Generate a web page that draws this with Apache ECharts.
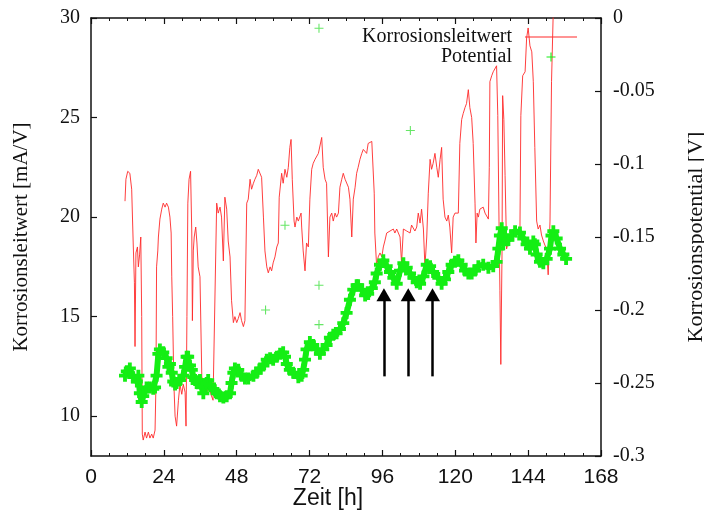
<!DOCTYPE html>
<html>
<head>
<meta charset="utf-8">
<script src="https://cdn.jsdelivr.net/npm/echarts@6/dist/echarts.min.js"></script>
<style>
  html, body { margin: 0; padding: 0; background: #fff; }
  #chart { width: 704px; height: 512px; }
</style>
</head>
<body>
<div id="chart"></div>
<script>
// Korrosionsleitwert [mA/V] (left axis)
const leitwertTime = [
  11.2, 11.5, 12.1, 12.8, 13.4, 13.9, 14.3, 14.5, 14.8, 15.3,
  15.6, 16.0, 16.4, 16.7, 16.9, 17.2, 17.8, 18.3, 18.9, 19.4,
  20.0, 20.5, 21.1, 21.4, 21.6, 22.0, 22.2, 22.7, 23.3, 23.8,
  24.4, 24.9, 25.5, 26.0, 26.4, 26.6, 26.9, 27.3, 27.7, 28.2,
  28.8, 29.3, 29.9, 30.4, 31.0, 31.3, 31.6, 31.9, 32.3, 32.8,
  33.2, 33.4, 33.7, 34.0, 34.5, 34.9, 35.3, 35.9, 36.5, 37.0,
  37.5, 38.2, 38.9, 39.5, 40.2, 40.7, 41.4, 41.9, 42.5, 43.0,
  43.6, 44.1, 44.7, 45.2, 45.8, 46.3, 46.9, 47.4, 48.0, 48.5,
  49.1, 49.6, 50.2, 50.7, 51.3, 51.8, 52.4, 52.9, 53.5, 54.0,
  54.6, 55.1, 55.7, 56.2, 56.8, 57.3, 57.9, 58.4, 59.0, 59.5,
  60.0, 60.6, 61.2, 61.7, 62.0, 62.8, 63.3, 63.9, 64.5, 65.0,
  65.5, 65.9, 66.3, 66.9, 67.2, 67.8, 68.3, 69.2, 69.4, 69.9,
  70.5, 71.0, 71.6, 72.1, 72.7, 73.2, 73.8, 74.3, 74.9, 75.4,
  76.0, 76.5, 77.1, 77.6, 78.2, 78.7, 79.3, 79.8, 80.4, 80.9,
  81.5, 82.0, 82.6, 83.1, 83.7, 84.2, 84.8, 85.3, 85.9, 86.4,
  87.0, 87.5, 88.0, 88.6, 89.2, 89.7, 90.3, 90.8, 91.3, 91.9,
  92.5, 93.0, 93.3, 93.5, 94.1, 94.6, 95.2, 95.8, 96.3, 96.8,
  97.4, 97.9, 98.5, 99.0, 99.6, 100.1, 100.7, 101.2, 101.8, 102.3,
  102.9, 103.4, 104.0, 104.5, 105.1, 105.6, 106.2, 106.7, 107.3, 107.8,
  108.4, 108.9, 109.5, 110.0, 110.6, 111.1, 111.7, 112.2, 112.7, 113.3,
  113.9, 114.4, 115.0, 115.5, 116.0, 116.6, 117.2, 117.7, 118.2, 118.8,
  119.3, 119.9, 120.5, 121.0, 121.5, 122.1, 122.6, 123.2, 123.7, 124.3,
  124.8, 125.4, 125.9, 126.5, 126.8, 127.2, 127.6, 128.1, 128.7, 129.2,
  129.8, 130.3, 130.9, 131.2, 131.4, 132.0, 132.5, 133.1, 133.6, 134.0,
  134.4, 134.7, 135.0, 135.4, 135.6, 136.0, 136.4, 136.9, 137.5, 138.0,
  138.6, 139.1, 140.2, 141.3, 141.6, 142.2, 143.0, 143.5, 144.0, 144.6,
  145.2, 145.7, 146.2, 146.8, 147.3, 147.9, 148.4, 149.0, 149.5, 150.1,
  150.6, 151.2, 151.7, 152.3
];
const leitwertValues = [
  20.8, 21.9, 22.3, 22.2, 21.4, 18.7, 16.7, 13.5, 18.2, 18.5,
  17.5, 18.1, 19.0, 15.0, 9.1, 8.8, 9.2, 8.9, 9.2, 8.9,
  9.1, 8.9, 9.3, 11.6, 17.5, 18.3, 19.0, 19.9, 20.4, 20.7,
  20.5, 20.7, 20.5, 20.0, 19.2, 17.0, 15.0, 11.6, 10.0, 9.5,
  10.8, 11.6, 11.1, 11.6, 11.2, 9.5, 15.0, 20.7, 21.9, 22.3,
  19.2, 14.8, 18.3, 19.0, 19.5, 18.7, 17.5, 17.0, 12.0, 11.6,
  11.8, 11.2, 11.6, 11.1, 10.8, 10.9, 20.7, 20.2, 20.5, 20.0,
  17.8, 21.0, 20.4, 18.8, 18.0, 15.8, 14.7, 15.0, 14.7, 14.9,
  15.2, 14.8, 14.5, 14.8, 20.7, 20.9, 21.9, 21.4, 21.7, 21.9,
  22.1, 22.4, 22.5, 22.0, 20.0, 18.3, 17.5, 17.2, 17.5, 17.3,
  17.7, 18.0, 18.5, 18.7, 21.0, 22.2, 21.7, 22.4, 22.0, 22.5,
  23.5, 23.9, 21.9, 19.8, 19.5, 20.0, 19.8, 20.2, 19.5, 18.3,
  17.3, 18.7, 18.5, 20.9, 22.4, 22.7, 22.9, 22.8, 23.2, 23.3,
  24.0, 22.5, 21.9, 21.7, 18.0, 20.0, 20.2, 19.8, 20.2, 20.0,
  20.2, 21.5, 21.9, 22.2, 21.9, 21.9, 21.5, 20.9, 19.0, 20.9,
  21.5, 22.2, 22.5, 22.9, 23.2, 23.4, 23.5, 23.2, 23.7, 23.7,
  23.8, 23.7, 21.2, 19.2, 17.5, 18.0, 18.2, 18.0, 18.5, 18.8,
  19.2, 19.3, 19.3, 19.4, 19.4, 19.2, 19.4, 19.3, 19.0, 17.7,
  19.4, 19.3, 19.3, 19.4, 19.2, 19.6, 19.5, 19.3, 19.5, 20.2,
  19.7, 20.4, 19.4, 17.5, 19.0, 21.2, 22.9, 22.4, 22.7, 23.2,
  22.5, 22.0, 22.9, 23.5, 20.9, 20.0, 19.8, 20.1, 19.5, 18.2,
  20.0, 20.2, 20.3, 20.2, 23.7, 24.9, 25.2, 25.5, 25.7, 26.4,
  25.5, 25.0, 23.7, 20.7, 18.7, 20.2, 20.0, 20.4, 20.3, 20.5,
  20.2, 20.1, 19.9, 22.5, 26.8, 27.1, 27.3, 27.3, 27.6, 25.1,
  19.8, 16.3, 12.6, 18.3, 26.1, 24.9, 22.1, 18.4, 18.8, 19.1,
  19.2, 19.3, 19.3, 19.4, 25.1, 27.1, 27.3, 29.0, 29.5, 28.6,
  28.3, 26.8, 23.5, 19.8, 19.4, 19.6, 19.1, 18.8, 18.6, 18.4,
  17.1, 19.8, 26.8, 30.5
];

// Korrosionspotential [V] (right axis)
const potentialTime = [
  11.2, 11.8, 12.8, 13.9, 15.1, 15.6, 16.1, 16.7, 17.2, 18.3,
  19.4, 20.5, 21.1, 21.6, 22.2, 22.7, 23.8, 24.9, 25.5, 26.0,
  26.6, 27.1, 27.7, 28.2, 29.3, 30.4, 31.0, 31.5, 32.0, 32.6,
  33.2, 33.7, 34.3, 34.8, 35.9, 36.5, 37.0, 38.1, 38.6, 39.2,
  40.3, 40.8, 41.4, 42.5, 43.6, 44.7, 45.8, 46.3, 46.9, 47.4,
  48.5, 49.6, 50.7, 51.8, 53.5, 54.6, 55.7, 56.8, 57.9, 59.0,
  60.0, 61.2, 62.3, 63.3, 63.9, 64.5, 65.5, 66.6, 68.3, 69.4,
  69.9, 70.5, 71.0, 72.1, 73.2, 74.3, 75.4, 76.5, 77.6, 78.7,
  79.8, 80.9, 82.0, 83.1, 84.2, 85.3, 86.4, 87.5, 88.0, 89.2,
  90.3, 91.3, 92.5, 93.5, 94.1, 95.2, 96.3, 97.4, 98.5, 99.6,
  100.7, 101.8, 102.9, 104.0, 105.1, 106.2, 107.3, 108.4, 109.5, 110.6,
  111.7, 112.7, 114.4, 115.5, 116.6, 117.7, 118.8, 119.9, 121.0, 122.1,
  123.2, 124.3, 125.4, 126.5, 127.6, 129.2, 130.9, 132.5, 133.6, 134.2,
  134.7, 135.3, 135.8, 136.4, 137.5, 138.6, 139.7, 141.3, 142.4, 143.5,
  144.6, 145.7, 146.2, 146.8, 147.9, 149.0, 150.1, 151.2, 151.7, 152.3,
  153.4, 154.5, 155.6, 156.5
];
const potentialValues = [
  -0.245, -0.242, -0.240, -0.246, -0.249, -0.245, -0.257, -0.263, -0.259, -0.253,
  -0.253, -0.254, -0.253, -0.245, -0.230, -0.227, -0.229, -0.233, -0.239, -0.237,
  -0.243, -0.249, -0.251, -0.250, -0.248, -0.245, -0.239, -0.232, -0.232, -0.238,
  -0.241, -0.246, -0.248, -0.250, -0.248, -0.253, -0.257, -0.250, -0.248, -0.251,
  -0.254, -0.255, -0.257, -0.259, -0.260, -0.259, -0.257, -0.250, -0.243, -0.240,
  -0.241, -0.245, -0.247, -0.247, -0.245, -0.243, -0.240, -0.238, -0.234, -0.233,
  -0.234, -0.232, -0.230, -0.229, -0.232, -0.237, -0.241, -0.243, -0.246, -0.245,
  -0.241, -0.234, -0.227, -0.222, -0.224, -0.227, -0.230, -0.227, -0.224, -0.219,
  -0.217, -0.216, -0.213, -0.209, -0.202, -0.193, -0.186, -0.183, -0.183, -0.186,
  -0.190, -0.189, -0.185, -0.181, -0.175, -0.169, -0.166, -0.170, -0.174, -0.178,
  -0.182, -0.173, -0.168, -0.171, -0.175, -0.178, -0.181, -0.182, -0.177, -0.169,
  -0.170, -0.174, -0.178, -0.182, -0.179, -0.174, -0.169, -0.167, -0.166, -0.169,
  -0.173, -0.175, -0.175, -0.173, -0.170, -0.169, -0.171, -0.170, -0.167, -0.158,
  -0.149, -0.144, -0.155, -0.149, -0.152, -0.149, -0.146, -0.147, -0.151, -0.155,
  -0.158, -0.153, -0.155, -0.162, -0.167, -0.168, -0.165, -0.158, -0.149, -0.146,
  -0.151, -0.158, -0.162, -0.165
];
// stray single readings of the potential
const outlierTime = [75.1, 63.9, 105.2, 75.1, 57.5, 75.1];
const outlierValues = [-0.007, -0.142, -0.077, -0.183, -0.200, -0.210];

// the three arrows under the potential peaks
const arrowTimes = [96.5, 104.5, 112.5];
const arrowFrom = 12.0;
const arrowTo = 16.1;

const leftTicks = [10, 15, 20, 25, 30];

const serif = '"Liberation Serif", "DejaVu Serif", serif';
const sans = '"Liberation Sans", Arial, sans-serif';
const ink = '#111';
const red = '#ff2a2a';
const green = '#14ee14';
const plusThick = 'path://M0,3.4H10V6.6H0Z M3.4,0H6.6V10H3.4Z';
const plusThin = 'path://M0,4.4H10V5.6H0Z M4.4,0H5.6V10H4.4Z';
const keyLine = 'path://M0,0H52V1H0Z';

const chart = echarts.init(document.getElementById('chart'));

const xCommon = {
  type: 'value',
  min: 0,
  max: 168,
  interval: 24,
  splitLine: { show: false },
  axisLine: { show: true, onZero: false, lineStyle: { color: ink, width: 1.5 } },
  axisTick: { show: true, inside: true, length: 6, lineStyle: { color: ink, width: 1.2 } },
  minorTick: { show: true, splitNumber: 4, length: 3, lineStyle: { color: ink, width: 1 } }
};

const option = {
  animation: false,
  backgroundColor: '#fff',
  grid: { left: 91, right: 103, top: 18, bottom: 56, containLabel: false, outerBoundsMode: 'none' },
  legend: {
    orient: 'vertical',
    align: 'right',
    right: 122,
    top: 22,
    itemWidth: 52,
    itemHeight: 9,
    itemGap: 0,
    textStyle: { fontFamily: serif, fontSize: 20, color: ink, padding: [0, 8, 0, 0] },
    data: [
      { name: 'Korrosionsleitwert', icon: keyLine, itemStyle: { color: red, borderWidth: 0 } },
      { name: 'Potential', icon: plusThin, itemStyle: { color: green, borderWidth: 0 } }
    ]
  },
  xAxis: [
    Object.assign({}, xCommon, {
      position: 'bottom',
      name: 'Zeit [h]',
      nameLocation: 'middle',
      nameGap: 31,
      nameMoveOverlap: false,
      nameTextStyle: { fontFamily: sans, fontSize: 23, color: ink, padding: [0, 36, 0, 0] },
      axisLabel: { margin: 11, fontFamily: sans, fontSize: 21, color: ink }
    }),
    Object.assign({}, xCommon, {
      position: 'top',
      axisLabel: { show: false }
    })
  ],
  yAxis: [
    {
      type: 'value',
      position: 'left',
      min: 8,
      max: 30,
      name: 'Korrosionsleitwert [mA/V]',
      nameLocation: 'middle',
      nameRotate: 90,
      nameGap: 59,
      nameMoveOverlap: false,
      nameTextStyle: { fontFamily: serif, fontSize: 21, color: ink },
      splitLine: { show: false },
      axisLine: { show: true, onZero: false, lineStyle: { color: ink, width: 1.5 } },
      axisTick: { show: true, inside: true, length: 6, customValues: leftTicks, lineStyle: { color: ink, width: 1.2 } },
      axisLabel: { margin: 11, customValues: leftTicks, fontFamily: serif, fontSize: 20, color: ink }
    },
    {
      type: 'value',
      position: 'right',
      min: -0.3,
      max: 0,
      interval: 0.05,
      name: 'Korrosionspotential [V]',
      nameLocation: 'middle',
      nameRotate: 90,
      nameGap: 84,
      nameMoveOverlap: false,
      nameTextStyle: { fontFamily: serif, fontSize: 22, color: ink },
      splitLine: { show: false },
      axisLine: { show: true, onZero: false, lineStyle: { color: ink, width: 1.5 } },
      axisTick: { show: true, inside: true, length: 6, lineStyle: { color: ink, width: 1.2 } },
      axisLabel: { margin: 12, fontFamily: serif, fontSize: 20, color: ink }
    }
  ],
  series: [
    {
      name: 'Korrosionsleitwert',
      type: 'line',
      xAxisIndex: 0,
      yAxisIndex: 0,
      symbol: 'none',
      clip: true,
      lineStyle: { color: red, width: 1, opacity: 0.9 },
      itemStyle: { color: red },
      data: leitwertTime.map((t, i) => [t, leitwertValues[i]]),
      z: 2,
      markLine: {
        silent: true,
        symbol: ['none', 'triangle'],
        symbolSize: [15, 13],
        label: { show: false },
        lineStyle: { color: '#000', width: 2.5, type: 'solid' },
        data: arrowTimes.map(t => [
          { coord: [t, arrowFrom] },
          { coord: [t, arrowTo] }
        ]),
        z: 10
      }
    },
    {
      name: 'Potential',
      type: 'line',
      xAxisIndex: 0,
      yAxisIndex: 1,
      symbol: plusThick,
      symbolSize: 12,
      showSymbol: true,
      lineStyle: { color: green, width: 6 },
      itemStyle: { color: green },
      data: potentialTime.map((t, i) => [t, potentialValues[i]]),
      z: 3
    },
    {
      name: 'Potential',
      type: 'scatter',
      xAxisIndex: 0,
      yAxisIndex: 1,
      symbol: plusThin,
      symbolSize: 9,
      itemStyle: { color: '#3ee03e' },
      data: outlierTime.map((t, i) => [t, outlierValues[i]]),
      z: 3
    }
  ]
};

chart.setOption(option);
</script>
</body>
</html>
